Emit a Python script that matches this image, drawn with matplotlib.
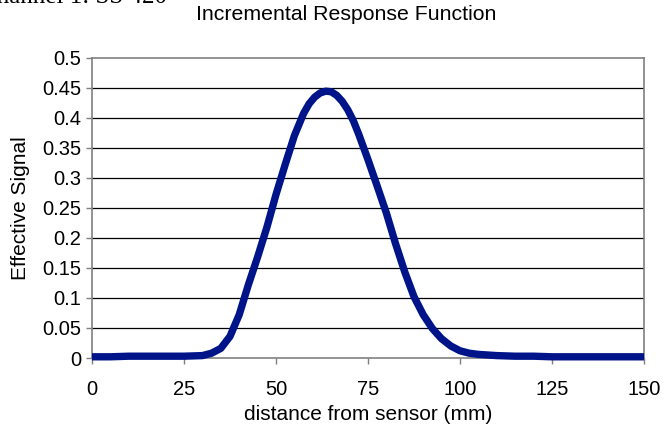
import matplotlib
matplotlib.use("Agg")
import matplotlib.pyplot as plt

plt.rcParams['font.family'] = ['Liberation Sans', 'DejaVu Sans']

distance = [0, 5, 10, 15, 20, 25, 30, 32.5, 35, 37.5, 40, 42.5, 45, 47.5, 50, 52.5, 55, 57.5,
            59, 60.5, 62, 63.5, 65, 66.5, 68, 69.5, 71, 72.5, 75, 77.5, 80, 82.5, 85, 87.5,
            90, 92.5, 95, 97.5, 100, 102.5, 105, 110, 115, 120, 125, 130, 140, 150]
signal = [0.002, 0.002, 0.003, 0.003, 0.003, 0.003, 0.004, 0.008, 0.016, 0.036, 0.072, 0.122,
          0.168, 0.217, 0.272, 0.322, 0.37, 0.407, 0.423, 0.434, 0.441, 0.444, 0.443, 0.437,
          0.427, 0.413, 0.395, 0.372, 0.33, 0.286, 0.241, 0.19, 0.143, 0.102, 0.072, 0.049,
          0.032, 0.02, 0.012, 0.008, 0.006, 0.004, 0.003, 0.003, 0.002, 0.002, 0.002, 0.002]
xticks = [0, 25, 50, 75, 100, 125, 150]
yticks = [0, 0.05, 0.1, 0.15, 0.2, 0.25, 0.3, 0.35, 0.4, 0.45, 0.5]
ytick_labels = ['0', '0.05', '0.1', '0.15', '0.2', '0.25', '0.3', '0.35', '0.4', '0.45', '0.5']

fig = plt.figure(figsize=(6.72, 4.28), dpi=100)
ax = fig.add_axes([92/672, 1-358/428, (644-92)/672, (358-57.5)/428])

for yv in yticks[1:-1]:
    ax.axhline(yv, color='black', lw=0.9, zorder=1)

ax.plot(distance, signal, color='#001489', lw=5.3, solid_capstyle='butt',
        solid_joinstyle='round', zorder=3, clip_on=False)

ax.set_xlim(0, 150)
ax.set_ylim(0, 0.5)
ax.set_xticks(xticks)
ax.set_xticklabels([str(v) for v in xticks])
ax.set_yticks(yticks)
ax.set_yticklabels(ytick_labels)
ax.tick_params(axis='both', direction='out', length=4.5, width=1, color='#7f7f7f',
               labelsize=14.5, pad=3, labelcolor='black')
ax.tick_params(axis='x', pad=11)
for s in ax.spines.values():
    s.set_color('#808080')
    s.set_linewidth(1.2)

ax.set_xlabel('distance from sensor (mm)', fontsize=15, labelpad=4.5)
ax.set_ylabel('Effective Signal', fontsize=15, labelpad=9)
fig.text(346/672, 1-14/428, 'Incremental Response Function', ha='center', va='center', fontsize=15.3)
fig.text(167/672, 1-3/428, 'Channel 1: SS 420', ha='right', va='baseline', fontsize=18,
         family=['Liberation Serif', 'DejaVu Serif'])

fig.savefig('out.png', dpi=100)
